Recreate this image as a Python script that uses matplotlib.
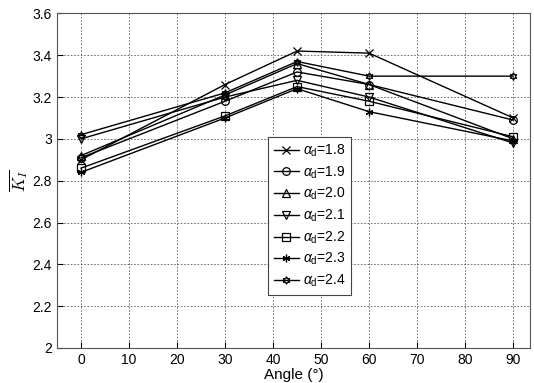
import matplotlib
matplotlib.use('Agg')
import matplotlib.pyplot as plt

# ---- data ----
angles = [0, 30, 45, 60, 90]
alpha_labels = ['1.8', '1.9', '2.0', '2.1', '2.2', '2.3', '2.4']
k_18 = [2.90, 3.26, 3.42, 3.41, 3.10]
k_19 = [2.91, 3.18, 3.32, 3.26, 3.09]
k_20 = [2.92, 3.21, 3.36, 3.26, 3.00]
k_21 = [3.00, 3.20, 3.28, 3.20, 2.98]
k_22 = [2.86, 3.11, 3.25, 3.18, 3.01]
k_23 = [2.84, 3.10, 3.24, 3.13, 2.99]
k_24 = [3.02, 3.22, 3.37, 3.30, 3.30]
x_ticks = [0, 10, 20, 30, 40, 50, 60, 70, 80, 90]
y_ticks = [2, 2.2, 2.4, 2.6, 2.8, 3, 3.2, 3.4, 3.6]

series = [k_18, k_19, k_20, k_21, k_22, k_23, k_24]
markers = ['x', 'o', '^', 'v', 's', (6, 2, 0), (6, 1, 0)]

plt.rcParams['font.family'] = ['Liberation Sans', 'DejaVu Sans']
plt.rcParams['mathtext.fontset'] = 'custom'
plt.rcParams['mathtext.rm'] = 'Liberation Sans'
plt.rcParams['mathtext.it'] = 'Liberation Sans:italic'

fig = plt.figure(figsize=(5.34, 3.83), dpi=100)
ax = fig.add_axes([0.1067, 0.0914, 0.8858, 0.8736])

for vals, mk, lab in zip(series, markers, alpha_labels):
    ax.plot(angles, vals, color='black', lw=1.0, marker=mk, markersize=5.5,
            markerfacecolor='none', markeredgecolor='black', markeredgewidth=0.9,
            label=r'$\alpha_\mathrm{d}$=' + lab)

ax.set_xlim(-5, 93.5)
ax.set_ylim(2, 3.6)
ax.set_xticks(x_ticks)
ax.set_yticks(y_ticks)
ax.set_yticklabels(['2', '2.2', '2.4', '2.6', '2.8', '3', '3.2', '3.4', '3.6'])
ax.grid(True, linestyle=(0, (2, 2)), color='#333333', lw=0.6, alpha=0.8)
ax.tick_params(direction='in', labelsize=10, length=4, colors='black')
for s in ax.spines.values():
    s.set_color('#555555')
    s.set_linewidth(0.8)

ax.set_xlabel('Angle (°)', fontsize=11, labelpad=1)
ax.set_ylabel(r'$\overline{K_I}$', fontsize=12, labelpad=2,
              math_fontfamily='cm')

leg = ax.legend(loc='upper left', bbox_to_anchor=(0.502, 0.642),
                bbox_transform=fig.transFigure, fontsize=10, frameon=True,
                fancybox=False, edgecolor='#444444', framealpha=1,
                labelspacing=0.38, handlelength=1.8, handletextpad=0.3,
                borderpad=0.4, borderaxespad=0)
leg.get_frame().set_linewidth(0.8)

fig.savefig('out.png', dpi=100)
